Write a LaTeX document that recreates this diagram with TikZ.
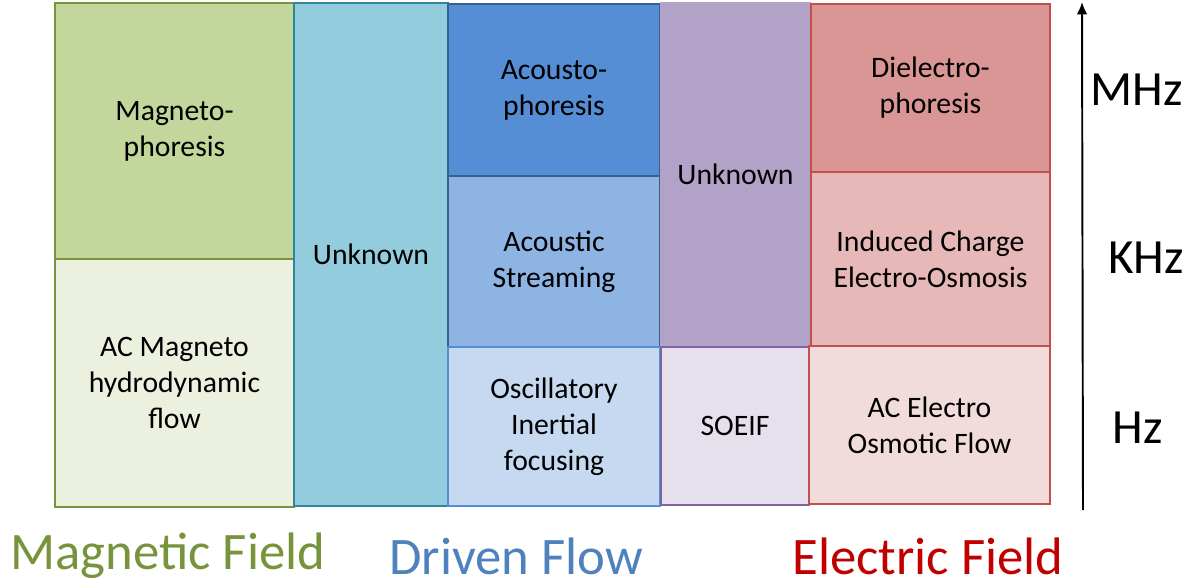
\documentclass[tikz,border=0pt]{standalone}
\usepackage{fontspec}
\setmainfont{Carlito}
\usepackage{tikz}
\usetikzlibrary{arrows.meta}
\usetikzlibrary{positioning}

\definecolor{magdark}{HTML}{77933C}
\definecolor{magfill}{HTML}{C3D69B}
\definecolor{maglight}{HTML}{EBF1DE}
\definecolor{tealdraw}{HTML}{31859C}
\definecolor{tealfill}{HTML}{93CDDD}
\definecolor{acdraw}{HTML}{376092}
\definecolor{acdark}{HTML}{558ED5}
\definecolor{acmid}{HTML}{8EB4E3}
\definecolor{aclight}{HTML}{C6D9F1}
\definecolor{flowblue}{HTML}{4F81BD}
\definecolor{purpdraw}{HTML}{8064A2}
\definecolor{purpfill}{HTML}{B3A2C7}
\definecolor{purplight}{HTML}{E6E0EC}
\definecolor{reddraw}{HTML}{C0504D}
\definecolor{reddark}{HTML}{D99694}
\definecolor{redmid}{HTML}{E6B9B8}
\definecolor{redlight}{HTML}{F2DCDB}
\definecolor{elecred}{HTML}{C00000}

\tikzset{
    cell/.style = {rectangle, line width=0.8pt, inner sep=0pt, outer sep=0pt,
                   align=center, font=\fontsize{16.9}{20.5}\selectfont},
    freq/.style = {font=\fontsize{28}{30}\selectfont},
    field/.style = {font=\fontsize{30}{32}\selectfont}
}

\begin{document}
\begin{tikzpicture}[x=0.02cm, y=-0.02cm]
    \useasboundingbox (0,0) rectangle (1198,586);
    % magnetic field column
    \node[cell, fill=magfill, draw=magdark, minimum width=4.78cm, minimum height=5.12cm] (magphor) at (174.5,131) {Magneto-\\phoresis};
    \node[cell, fill=maglight, draw=magdark, minimum width=4.78cm, minimum height=4.96cm] (acmhd) at (174.5,383) {AC Magneto\\hydrodynamic\\flow};
    \node[cell, fill=tealfill, draw=tealdraw, minimum width=3.08cm, minimum height=10.06cm] (unkA) at (371,254.5) {Unknown};
    % driven flow column
    \node[cell, fill=acdark, draw=acdraw, minimum width=4.24cm, minimum height=3.44cm] (acphor) at (554,90) {Acousto-\\phoresis};
    \node[cell, fill=acmid, draw=acdraw, minimum width=4.24cm, minimum height=3.42cm] (acstream) at (554,261.5) {Acoustic\\Streaming};
    \node[cell, fill=aclight, draw=acdark, minimum width=4.24cm, minimum height=3.18cm] (oscif) at (554,426.5) {Oscillatory\\Inertial\\focusing};
    \node[cell, fill=purpfill, minimum width=3.02cm, minimum height=6.88cm] (unkB) at (735.5,174) {Unknown};
    \node[cell, fill=purplight, draw=purpdraw, minimum width=2.96cm, minimum height=3.16cm] (soeif) at (735,426) {SOEIF};
    % electric field column
    \node[cell, fill=reddark, draw=reddraw, minimum width=4.78cm, minimum height=3.36cm] (dep) at (930.5,88) {Dielectro-\\phoresis};
    \node[cell, fill=redmid, draw=reddraw, minimum width=4.78cm, minimum height=3.48cm] (iceo) at (930.5,259) {Induced Charge\\Electro-Osmosis};
    \node[cell, fill=redlight, draw=reddraw, minimum width=4.82cm, minimum height=3.16cm] (aceo) at (929.5,425) {AC Electro\\Osmotic Flow};

    % frequency axis
    \coordinate (flo) at (1083,510);
    \coordinate (fhi) at (1082,2);
    \draw[-{Latex[length=7pt,width=6pt]}, line width=1.1pt] (flo) -- (fhi);
    \node[freq] (mhz) at (1137,90) {MHz};
    \node[freq] (khz) at (1146,258) {KHz};
    \node[freq] (hz) at (1138,428) {Hz};

    \node[field, text=magdark] (magfield) at (168,556) {Magnetic Field};
    \node[field, text=flowblue] (drivenflow) at (516,556) {Driven Flow};
    \node[field, text=elecred] (elecfield) at (928,556) {Electric Field};
\end{tikzpicture}
\end{document}
